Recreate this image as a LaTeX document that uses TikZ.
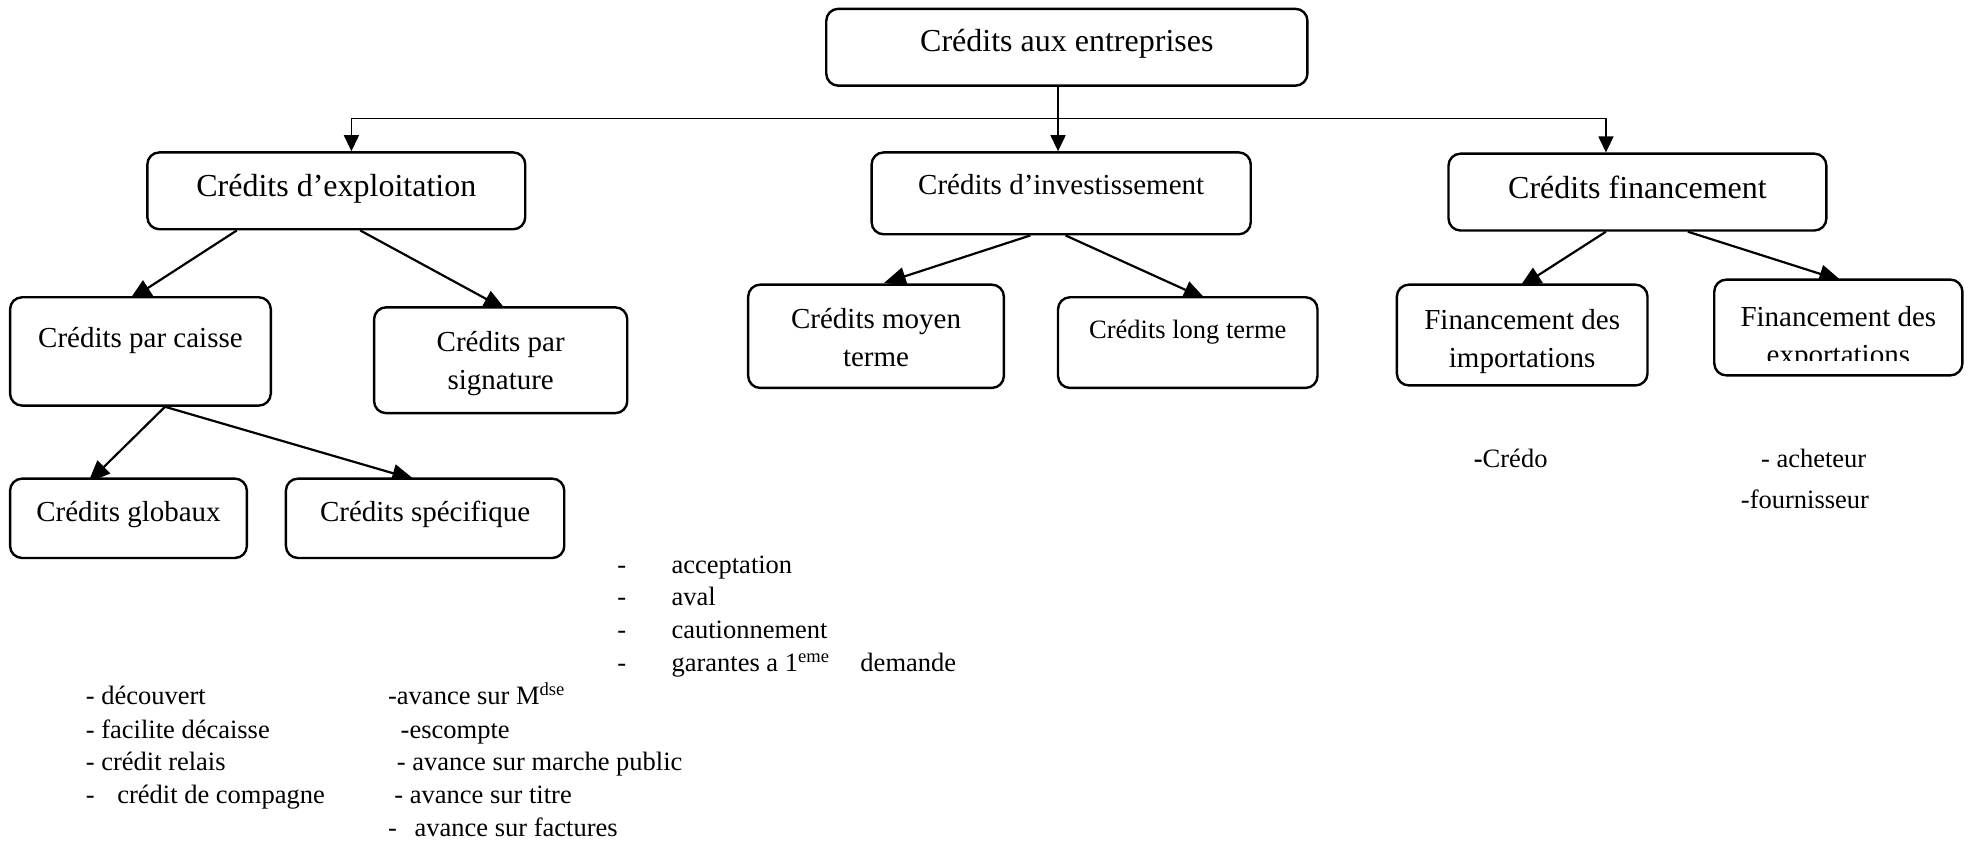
\documentclass[tikz,border=0pt]{standalone}
\usepackage{fontspec}
\setmainfont{Liberation Serif}
\usetikzlibrary{arrows.meta,calc}
\pgfdeclarelayer{links}
\pgfsetlayers{links,main}
\begin{document}
\begin{tikzpicture}[x=1.2596pt,y=-1.2596pt,
  box/.style={draw,fill=white,line width=2.4pt,rounded corners=12pt,inner sep=0pt},
  wh/.style 2 args={minimum width=#1*1.2596pt,minimum height=#2*1.2596pt},
  lbl/.style={inner sep=0pt,align=center,text height=0.7em,text depth=0.25em},
  lbltwo/.style={inner sep=0pt,align=center},
  big/.style={font=\fontsize{32}{38}\selectfont},
  mid/.style={font=\fontsize{29}{38}\selectfont},
  sml/.style={font=\fontsize{26.5}{32}\selectfont},
  item/.style={inner sep=0pt,anchor=base west,font=\fontsize{26.5}{32}\selectfont},
  link/.style={line width=2.2pt,shorten >=-7pt,-{Triangle[length=22pt,width=18pt]}},
  bus/.style={line width=1.4pt,-{Triangle[length=16pt,width=15pt]}}]
\useasboundingbox (0,0) rectangle (1568,667);

% top level
\node[box,wh={382}{61}] (root) at (847,37.5) {};
\node[lbl,big] (troot) at (847,39) {Crédits aux entreprises};

\node[box,wh={300}{61}] (expl) at (267,151.5) {};
\node[lbl,big] (texpl) at (267,154) {Crédits d’exploitation};

\node[box,wh={301}{65}] (inv) at (842.5,153.5) {};
\node[lbl,mid] (tinv) at (842.5,153) {Crédits d’investissement};

\node[box,wh={300}{61}] (fin) at (1300,152.5) {};
\node[lbl,big] (tfin) at (1300,156) {Crédits financement};

% second level
\node[box,wh={207}{86}] (caisse) at (111.5,279) {};
\node[lbl,mid] (tcaisse) at (111.5,274) {Crédits par caisse};

\node[box,wh={201}{84}] (sig) at (397.5,286) {};
\node[lbltwo,mid] (tsig) at (397.5,289) {Crédits par\\signature};

\node[box,wh={203}{82}] (moyen) at (695.5,267) {};
\node[lbltwo,mid] (tmoyen) at (695.5,268) {Crédits moyen\\terme};

\node[box,wh={206}{72}] (long) at (943,272) {};
\node[lbl,sml] (tlong) at (943,267) {Crédits long terme};

\node[box,wh={199}{80}] (imp) at (1208.5,266) {};
\node[lbltwo,mid] (timp) at (1208.5,271) {Financement des\\importations};

\node[box,wh={197}{76}] (exp) at (1459.5,260) {};
\begin{scope}
  \clip (1361,222) rectangle (1558,286);
  \node[lbltwo,mid] (texp) at (1459.5,268.5) {Financement des\\exportations};
\end{scope}

% third level
\node[box,wh={188}{63}] (glob) at (102,411.5) {};
\node[lbl,mid] (tglob) at (102,412) {Crédits globaux};

\node[box,wh={221}{63}] (spec) at (337.5,411.5) {};
\node[lbl,mid] (tspec) at (337.5,412) {Crédits spécifique};

\begin{pgfonlayer}{links}
% connectors from the root
\draw[bus] ($(root.south)+(-7,0)$) -- ($(inv.north)+(-2.5,0)$);
\draw[bus] ($(root.south)+(-7,25)$) -| ($(expl.north)+(12,0)$);
\draw[bus] ($(root.south)+(-7,25)$) -| ($(fin.north)+(-25,0)$);

% connectors below, their tips tucked under the boxes
\draw[link] ($(expl.south)+(-79,0)$) -- ($(caisse.north)+(-4,0)$);
\draw[link] ($(expl.south)+(19,0)$) -- ($(sig.north)+(-1,0)$);
\draw[link] ($(inv.south)+(-24.5,0)$) -- ($(moyen.north)+(11.5,-2)$);
\draw[link] ($(inv.south)+(3.5,0)$) -- ($(long.north)+(9,0)$);
\draw[link] ($(fin.south)+(-25,0)$) -- ($(imp.north)+(2.5,0)$);
\draw[link] ($(fin.south)+(40,0)$) -- ($(exp.north)+(-3,0)$);
\draw[link] ($(caisse.south)+(19.5,0)$) -- ($(glob.north)+(-28,0)$);
\draw[link] ($(caisse.south)+(19.5,0)$) -- ($(spec.north)+(-14,0)$);
\end{pgfonlayer}

% lists: signature credits
\node[item] (s1d) at (490,455) {-};
\node[item] (s1) at (533,455) {acceptation};
\node[item] (s2d) at (490,481) {-};
\node[item] (s2) at (533,481) {aval};
\node[item] (s3d) at (490,507) {-};
\node[item] (s3) at (533,507) {cautionnement};
\node[item] (s4d) at (490,533) {-};
\node[item] (s4) at (533,533) {garantes a 1\textsuperscript{eme}};
\node[item] (s4b) at (683,533) {demande};

% lists: global credits
\node[item] (g1) at (68,559) {- découvert};
\node[item] (g2) at (68,586) {- facilite décaisse};
\node[item] (g3) at (68,612) {- crédit relais};
\node[item] (g4d) at (68,638) {-};
\node[item] (g4) at (93,638) {crédit de compagne};

% lists: specific credits
\node[item] (p1) at (308,559) {-avance sur M\textsuperscript{dse}};
\node[item] (p2) at (318,586) {-escompte};
\node[item] (p3) at (315,612) {- avance sur marche public};
\node[item] (p4) at (313,638) {- avance sur titre};
\node[item] (p5d) at (308,664) {-};
\node[item] (p5) at (329,664) {avance sur factures};

% lists: import / export
\node[item] (c1) at (1170,371) {\textbf{-}Crédo};
\node[item] (e1) at (1398,371) {- acheteur};
\node[item] (e2) at (1382,404) {-fournisseur};
\end{tikzpicture}
\end{document}
